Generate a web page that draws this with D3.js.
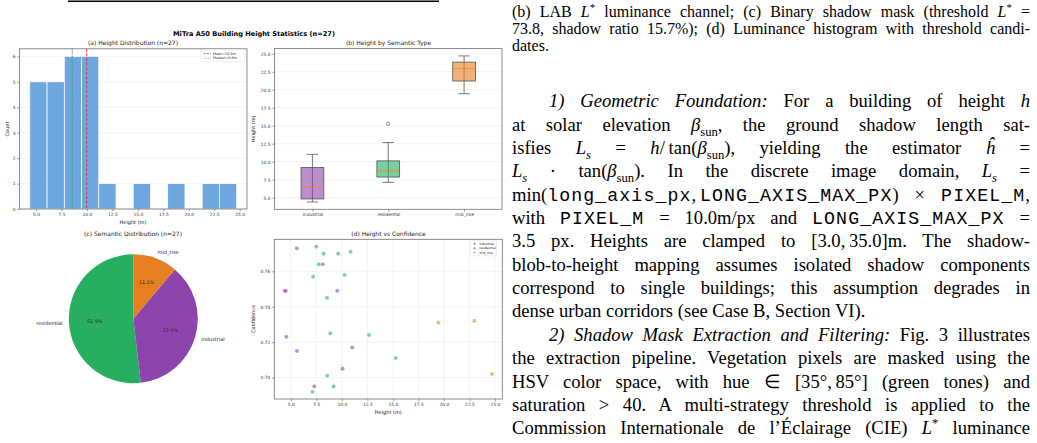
<!DOCTYPE html>
<html>
<head>
<meta charset="utf-8">
<script src="https://cdn.jsdelivr.net/npm/d3@7"></script>
<style>
  body { margin: 0; background: #fff; width: 1037px; height: 443px; overflow: hidden; position: relative; }
  svg { position: absolute; left: 0; top: 0; }
  svg text { font-family: "DejaVu Sans", sans-serif; fill: #222; }
  .col { position: absolute; left: 512px; top: 0; width: 518px; font-family: "Liberation Serif", "Times New Roman", serif; color: #000; }
  .ln { position: absolute; left: 0; width: 518px; white-space: nowrap; text-align: justify; text-align-last: justify; }
  .ln.last { text-align: left; text-align-last: left; }
  .tt { font-family: "Liberation Mono", monospace; font-size: 0.98em; letter-spacing: 1.1px; font-weight: 300; }
  sub, sup { font-size: 0.68em; line-height: 0; }
</style>
</head>
<body>
<script>
// building samples (height m, confidence)
var categories = ["industrial", "residential", "mid_rise"];
var industrialHeights = [5.59, 8.14, 4.4, 4.5, 9.55, 4.57, 5.6, 11.02, 10.07, 7.3];
var industrialConf = [0.773, 0.764, 0.749, 0.749, 0.749, 0.723, 0.715, 0.717, 0.705, 0.695];
var residentialHeights = [7.49, 8.21, 9.65, 10.86, 7.75, 7.19, 10.27, 8.54, 8.86, 12.66, 15.28, 8.57, 9.19, 7.13];
var residentialConf = [0.774, 0.770, 0.770, 0.771, 0.764, 0.757, 0.758, 0.745, 0.725, 0.724, 0.711, 0.701, 0.695, 0.692];
var midRiseHeights = [19.45, 22.97, 24.7];
var midRiseConf = [0.731, 0.732, 0.702];
var catColors = ["#8e44ad", "#27ae60", "#e67e22"];
var histTicks = [5, 7.5, 10, 12.5, 15, 17.5, 20, 22.5, 25];
var countTicks = [0, 1, 2, 3, 4, 5, 6];
var confTicks = [0.70, 0.72, 0.74, 0.76];

var w = 1037, h = 443;
var svg = d3.select("body").append("svg").attr("width", w).attr("height", h);

var heightsByCat = [industrialHeights, residentialHeights, midRiseHeights];
var confByCat = [industrialConf, residentialConf, midRiseConf];
var allHeights = [].concat(industrialHeights, residentialHeights, midRiseHeights);
var n = allHeights.length;

// matplotlib-like padded domain
function pad(ext, f) {
    var d = (ext[1] - ext[0]) * f;
    return [ext[0] - d, ext[1] + d];
}

// top rule left over from the table above the figure
svg.append("line").attr("x1", 68).attr("x2", 439).attr("y1", 1.3).attr("y2", 1.3)
    .style("stroke", "#000").style("stroke-width", 1.6);

svg.append("text")
    .attr("x", 254).attr("y", 35.8)
    .attr("text-anchor", "middle")
    .style("font-size", "6.6px").style("font-weight", "bold").style("fill", "#000")
    .text("MiTra A50 Building Height Statistics (n=" + n + ")");

function frame(g, x0, x1, y0, y1) {
    g.append("rect").attr("x", x0).attr("y", y0).attr("width", x1 - x0).attr("height", y1 - y0)
        .style("fill", "none").style("stroke", "#707070").style("stroke-width", 0.8);
}
function styleAxis(ax) {
    ax.select(".domain").remove();
    ax.selectAll(".tick line").style("stroke", "#555").style("stroke-width", 0.6);
    ax.selectAll(".tick text").style("font-size", "4.4px").style("fill", "#333");
}
function title(txt, x, y) {
    svg.append("text").attr("x", x).attr("y", y).attr("text-anchor", "middle")
        .style("font-size", "6px").text(txt);
}
function ylabel(txt, x, y) {
    svg.append("text").attr("transform", "translate(" + x + "," + y + ") rotate(-90)")
        .attr("text-anchor", "middle").style("font-size", "5px").text(txt);
}
function xlabel(txt, x, y) {
    svg.append("text").attr("x", x).attr("y", y).attr("text-anchor", "middle")
        .style("font-size", "5px").text(txt);
}

// ---------- (a) histogram ----------
var a = {x0: 19.5, x1: 247, y0: 48.8, y1: 209};
var hExt = d3.extent(allHeights);
var xa = d3.scaleLinear().domain(pad(hExt, 0.05)).range([a.x0, a.x1]);
var binW = (hExt[1] - hExt[0]) / 12;
var bins = d3.bin().domain(hExt)
    .thresholds(d3.range(1, 12).map(function(i){ return hExt[0] + i * binW; }))(allHeights);
var ya = d3.scaleLinear().domain([0, 6 * 1.05]).range([a.y1, a.y0]);

var ga = svg.append("g");
ga.selectAll(".grid").data(countTicks).enter().append("line")
    .attr("x1", a.x0).attr("x2", a.x1)
    .attr("y1", function(d){ return ya(d); }).attr("y2", function(d){ return ya(d); })
    .style("stroke", "#ebebeb").style("stroke-width", 0.6);
ga.selectAll(".bar").data(bins.filter(function(b){ return b.length > 0; })).enter().append("rect")
    .attr("x", function(d){ return xa(d.x0); })
    .attr("width", function(d){ return xa(d.x1) - xa(d.x0); })
    .attr("y", function(d){ return ya(d.length); })
    .attr("height", function(d){ return ya(0) - ya(d.length); })
    .style("fill", "#6ea6df").style("stroke", "#fff").style("stroke-width", 0.7);

var mean = d3.mean(allHeights), median = d3.median(allHeights);
ga.append("line").attr("x1", xa(median)).attr("x2", xa(median)).attr("y1", a.y0).attr("y2", a.y1)
    .style("stroke", "#3aa860").style("stroke-width", 1.4).style("stroke-dasharray", "1.4,0.9").style("opacity", 0.75);
ga.append("line").attr("x1", xa(mean)).attr("x2", xa(mean)).attr("y1", a.y0).attr("y2", a.y1)
    .style("stroke", "#e8302a").style("stroke-width", 1.0).style("stroke-dasharray", "3,1.6");
frame(ga, a.x0, a.x1, a.y0, a.y1);
styleAxis(ga.append("g").attr("transform", "translate(0," + a.y1 + ")")
    .call(d3.axisBottom(xa).tickValues(histTicks).tickFormat(d3.format(".1f")).tickSize(2.2).tickPadding(1.6)));
styleAxis(ga.append("g").attr("transform", "translate(" + a.x0 + ",0)")
    .call(d3.axisLeft(ya).tickValues(countTicks).tickFormat(d3.format("d")).tickSize(2.2).tickPadding(1.8)));

// legend (a)
var la = ga.append("g").attr("transform", "translate(201,49.6)");
la.append("rect").attr("width", 44).attr("height", 12.2).attr("rx", 1)
    .style("fill", "#fff").style("stroke", "#ddd").style("stroke-width", 0.5);
la.append("line").attr("x1", 2.5).attr("x2", 10).attr("y1", 4).attr("y2", 4)
    .style("stroke", "#e8302a").style("stroke-width", 0.8).style("stroke-dasharray", "2.2,1.2");
la.append("line").attr("x1", 2.5).attr("x2", 10).attr("y1", 8.6).attr("y2", 8.6)
    .style("stroke", "#3aa860").style("stroke-width", 0.8).style("stroke-dasharray", "0.8,0.8");
la.append("text").attr("x", 12).attr("y", 5.2).style("font-size", "3.4px").text("Mean=" + mean.toFixed(1) + "m");
la.append("text").attr("x", 12).attr("y", 9.8).style("font-size", "3.4px").text("Median=" + median.toFixed(1) + "m");

title("(a) Height Distribution (n=" + n + ")", 133, 44.9);
xlabel("Height (m)", 133, 224.2);
ylabel("Count", 8.6, 129);

// ---------- (b) box plot ----------
var b = {x0: 274.5, x1: 502, y0: 48.6, y1: 209.3};
var xb = d3.scaleLinear().domain([0.5, 3.5]).range([b.x0, b.x1]);
var yb = d3.scaleLinear().domain(pad(hExt, 0.05)).range([b.y1, b.y0]);
var gb = svg.append("g");
gb.selectAll(".grid").data(histTicks).enter().append("line")
    .attr("x1", b.x0).attr("x2", b.x1)
    .attr("y1", function(d){ return yb(d); }).attr("y2", function(d){ return yb(d); })
    .style("stroke", "#ebebeb").style("stroke-width", 0.6);

var boxStats = heightsByCat.map(function(vals, i){
    var s = vals.slice().sort(d3.ascending);
    var q1 = d3.quantile(s, 0.25), q3 = d3.quantile(s, 0.75), med = d3.quantile(s, 0.5);
    var iqr = q3 - q1;
    var inside = s.filter(function(v){ return v >= q1 - 1.5 * iqr && v <= q3 + 1.5 * iqr; });
    return {
        pos: i + 1, q1: q1, q3: q3, med: med,
        lo: d3.min(inside), hi: d3.max(inside),
        out: s.filter(function(v){ return v < q1 - 1.5 * iqr || v > q3 + 1.5 * iqr; }),
        color: catColors[i]
    };
});
var bw = 0.15; // half box width in position units
var boxes = gb.selectAll(".box").data(boxStats).enter().append("g");
boxes.append("line") // whisker
    .attr("x1", function(d){ return xb(d.pos); }).attr("x2", function(d){ return xb(d.pos); })
    .attr("y1", function(d){ return yb(d.lo); }).attr("y2", function(d){ return yb(d.hi); })
    .style("stroke", "#555").style("stroke-width", 0.8);
boxes.selectAll(".cap").data(function(d){ return [[d.pos, d.lo], [d.pos, d.hi]]; }).enter().append("line")
    .attr("x1", function(d){ return xb(d[0] - bw / 2); }).attr("x2", function(d){ return xb(d[0] + bw / 2); })
    .attr("y1", function(d){ return yb(d[1]); }).attr("y2", function(d){ return yb(d[1]); })
    .style("stroke", "#555").style("stroke-width", 0.8);
boxes.append("rect")
    .attr("x", function(d){ return xb(d.pos - bw); })
    .attr("width", function(d){ return xb(d.pos + bw) - xb(d.pos - bw); })
    .attr("y", function(d){ return yb(d.q3); })
    .attr("height", function(d){ return yb(d.q1) - yb(d.q3); })
    .style("fill", function(d){ return d.color; }).style("fill-opacity", 0.6)
    .style("stroke", "#555").style("stroke-width", 0.8);
boxes.append("line")
    .attr("x1", function(d){ return xb(d.pos - bw); }).attr("x2", function(d){ return xb(d.pos + bw); })
    .attr("y1", function(d){ return yb(d.med); }).attr("y2", function(d){ return yb(d.med); })
    .style("stroke", "#ff7f0e").style("stroke-width", 0.8);
boxes.selectAll(".flier").data(function(d){ return d.out.map(function(v){ return [d.pos, v]; }); })
    .enter().append("circle")
    .attr("cx", function(d){ return xb(d[0]); }).attr("cy", function(d){ return yb(d[1]); })
    .attr("r", 1.6).style("fill", "none").style("stroke", "#444").style("stroke-width", 0.6);
frame(gb, b.x0, b.x1, b.y0, b.y1);
styleAxis(gb.append("g").attr("transform", "translate(0," + b.y1 + ")")
    .call(d3.axisBottom(xb).tickValues([1, 2, 3]).tickFormat(function(d){ return categories[d - 1]; })
        .tickSize(2.2).tickPadding(1.6)));
styleAxis(gb.append("g").attr("transform", "translate(" + b.x0 + ",0)")
    .call(d3.axisLeft(yb).tickValues(histTicks).tickFormat(d3.format(".1f")).tickSize(2.2).tickPadding(1.8)));
title("(b) Height by Semantic Type", 388.5, 44.9);
ylabel("Height (m)", 254.6, 129);

// ---------- (c) pie ----------
var pc = {cx: 133.3, cy: 318.8, r: 64.5};
var counts = heightsByCat.map(function(v){ return v.length; });
var pieOrder = [1, 0, 2]; // residential, industrial, mid_rise
var pie = d3.pie().sort(null).startAngle(0).endAngle(-2 * Math.PI)
    .value(function(i){ return counts[i]; });
var arcs = pie(pieOrder);
var arc = d3.arc().innerRadius(0).outerRadius(pc.r);
var gc = svg.append("g").attr("transform", "translate(" + pc.cx + "," + pc.cy + ")");
gc.selectAll(".slice").data(arcs).enter().append("path")
    .attr("d", arc)
    .style("fill", function(d){ return catColors[d.data]; });
function midAng(d){ return (d.startAngle + d.endAngle) / 2; }
gc.selectAll(".lab").data(arcs).enter().append("text")
    .attr("x", function(d){ return Math.sin(midAng(d)) * pc.r * 1.1; })
    .attr("y", function(d){ return -Math.cos(midAng(d)) * pc.r * 1.1 + 1.7; })
    .attr("text-anchor", function(d){ return Math.sin(midAng(d)) > 0 ? "start" : "end"; })
    .style("font-size", "5px")
    .text(function(d){ return categories[d.data]; });
gc.selectAll(".pct").data(arcs).enter().append("text")
    .attr("x", function(d){ return Math.sin(midAng(d)) * pc.r * 0.6; })
    .attr("y", function(d){ return -Math.cos(midAng(d)) * pc.r * 0.6 + 1.7; })
    .attr("text-anchor", "middle")
    .style("font-size", "4.8px")
    .text(function(d){ return (100 * counts[d.data] / n).toFixed(1) + "%"; });
title("(c) Semantic Distribution (n=" + n + ")", 133, 235.6);

// ---------- (d) scatter ----------
var dd = {x0: 274.3, x1: 502.3, y0: 239.3, y1: 399};
var allConf = [].concat(industrialConf, residentialConf, midRiseConf);
var xd = d3.scaleLinear().domain(pad(hExt, 0.05)).range([dd.x0, dd.x1]);
var yd = d3.scaleLinear().domain(pad(d3.extent(allConf), 0.05)).range([dd.y1, dd.y0]);
var gd = svg.append("g");
gd.selectAll(".gx").data(histTicks).enter().append("line")
    .attr("x1", function(d){ return xd(d); }).attr("x2", function(d){ return xd(d); })
    .attr("y1", dd.y0).attr("y2", dd.y1)
    .style("stroke", "#ebebeb").style("stroke-width", 0.6);
gd.selectAll(".gy").data(confTicks).enter().append("line")
    .attr("x1", dd.x0).attr("x2", dd.x1)
    .attr("y1", function(d){ return yd(d); }).attr("y2", function(d){ return yd(d); })
    .style("stroke", "#ebebeb").style("stroke-width", 0.6);
var pts = [];
heightsByCat.forEach(function(vals, c){
    vals.forEach(function(v, i){ pts.push({h: v, conf: confByCat[c][i], c: c}); });
});
gd.selectAll(".pt").data(pts).enter().append("circle")
    .attr("cx", function(d){ return xd(d.h); })
    .attr("cy", function(d){ return yd(d.conf); })
    .attr("r", 2.1)
    .style("fill", function(d){ return catColors[d.c]; }).style("fill-opacity", 0.6)
    .style("stroke", "#fff").style("stroke-width", 0.3);
frame(gd, dd.x0, dd.x1, dd.y0, dd.y1);
styleAxis(gd.append("g").attr("transform", "translate(0," + dd.y1 + ")")
    .call(d3.axisBottom(xd).tickValues(histTicks).tickFormat(d3.format(".1f")).tickSize(2.2).tickPadding(1.6)));
styleAxis(gd.append("g").attr("transform", "translate(" + dd.x0 + ",0)")
    .call(d3.axisLeft(yd).tickValues(confTicks).tickFormat(d3.format(".2f")).tickSize(2.2).tickPadding(1.8)));
var ld = gd.append("g").attr("transform", "translate(470.5,240.8)");
ld.append("rect").attr("width", 26).attr("height", 15).attr("rx", 1)
    .style("fill", "#fff").style("stroke", "#ddd").style("stroke-width", 0.5);
ld.selectAll(".li").data(categories).enter().append("circle")
    .attr("cx", 4).attr("cy", function(d, i){ return 3 + i * 4.4; }).attr("r", 1.2)
    .style("fill", function(d, i){ return catColors[i]; }).style("fill-opacity", 0.6);
ld.selectAll(".lt").data(categories).enter().append("text")
    .attr("x", 8.8).attr("y", function(d, i){ return 4.1 + i * 4.4; })
    .style("font-size", "3.2px").text(function(d){ return d; });
title("(d) Height vs Confidence", 388.5, 235.6);
xlabel("Height (m)", 388.3, 413.6);
ylabel("Confidence", 254.8, 319);

// ---------- text column ----------
var captionLines = [
    '(b) LAB <i>L</i><sup>*</sup> luminance channel; (c) Binary shadow mask (threshold <i>L</i><sup>*</sup> =',
    '73.8, shadow ratio 15.7%); (d) Luminance histogram with threshold candi-',
    'dates.'
];
var bodyLines = [
    '<i>1) Geometric Foundation:</i> For a building of height <i>h</i>',
    'at solar elevation <i>β</i><sub>sun</sub>, the ground shadow length sat-',
    'isfies <i>L<sub>s</sub></i> = <i>h</i>/\u2009tan(<i>β</i><sub>sun</sub>), yielding the estimator <i>ĥ</i> =',
    '<i>L<sub>s</sub></i> · tan(<i>β</i><sub>sun</sub>). In the discrete image domain, <i>L<sub>s</sub></i> =',
    'min(<span class="tt">long_axis_px</span>,\u2009<span class="tt">LONG_AXIS_MAX_PX</span>) × <span class="tt">PIXEL_M</span>,',
    'with <span class="tt">PIXEL_M</span> = 10.0m/px and <span class="tt">LONG_AXIS_MAX_PX</span> =',
    '3.5 px. Heights are clamped to [3.0,\u200935.0]m. The shadow-',
    'blob-to-height mapping assumes isolated shadow components',
    'correspond to single buildings; this assumption degrades in',
    'dense urban corridors (see Case B, Section VI).',
    '<i>2) Shadow Mask Extraction and Filtering:</i> Fig. 3 illustrates',
    'the extraction pipeline. Vegetation pixels are masked using the',
    'HSV color space, with hue ∈ [35°,\u200985°] (green tones) and',
    'saturation &gt; 40. A multi-strategy threshold is applied to the',
    'Commission Internationale de l’Éclairage (CIE) <i>L</i><sup>*</sup> luminance'
];
var indentLines = [0, 10], lastLines = [9];

var col = d3.select("body").append("div").attr("class", "col");
col.selectAll(".cap").data(captionLines).enter().append("div")
    .attr("class", function(d, i){ return i === captionLines.length - 1 ? "ln last" : "ln"; })
    .style("font-size", "16px").style("line-height", "17px")
    .style("top", function(d, i){ return (2.5 + i * 17) + "px"; })
    .html(function(d){ return d; });
col.selectAll(".body").data(bodyLines).enter().append("div")
    .attr("class", function(d, i){ return lastLines.indexOf(i) >= 0 ? "ln last" : "ln"; })
    .style("font-size", "18.6px").style("line-height", "23.36px")
    .style("top", function(d, i){ return (89.2 + i * 23.36) + "px"; })
    .style("left", function(d, i){ return indentLines.indexOf(i) >= 0 ? "37px" : "0px"; })
    .style("width", function(d, i){ return indentLines.indexOf(i) >= 0 ? "481px" : "518px"; })
    .html(function(d){ return d; });
</script>
</body>
</html>
